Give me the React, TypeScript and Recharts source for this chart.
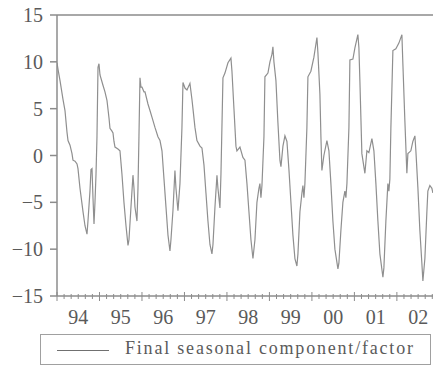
import { LineChart, Line, XAxis, YAxis, ReferenceLine } from 'recharts'

// decimal years of each reading
const dates = [
  1994.0, 1994.024, 1994.071, 1994.141, 1994.188, 1994.235, 1994.259, 1994.306, 1994.353, 1994.376,
  1994.424, 1994.471, 1994.494, 1994.541, 1994.612, 1994.659, 1994.706, 1994.729, 1994.776, 1994.8,
  1994.824, 1994.847, 1994.871, 1994.894, 1994.918, 1994.941, 1994.965, 1994.988, 1995.012, 1995.082,
  1995.129, 1995.176, 1995.224, 1995.247, 1995.294, 1995.318, 1995.341, 1995.365, 1995.435, 1995.482,
  1995.529, 1995.576, 1995.624, 1995.671, 1995.694, 1995.741, 1995.788, 1995.812, 1995.835, 1995.882,
  1995.906, 1995.929, 1995.953, 1995.976, 1996.0, 1996.047, 1996.071, 1996.141, 1996.188, 1996.235,
  1996.306, 1996.376, 1996.424, 1996.471, 1996.518, 1996.565, 1996.612, 1996.659, 1996.682, 1996.729,
  1996.776, 1996.8, 1996.847, 1996.894, 1996.941, 1996.965, 1997.012, 1997.059, 1997.129, 1997.176,
  1997.2, 1997.247, 1997.294, 1997.365, 1997.412, 1997.459, 1997.506, 1997.553, 1997.6, 1997.647,
  1997.671, 1997.718, 1997.765, 1997.788, 1997.835, 1997.859, 1997.906, 1997.953, 1998.024, 1998.094,
  1998.118, 1998.165, 1998.212, 1998.235, 1998.306, 1998.376, 1998.424, 1998.471, 1998.518, 1998.565,
  1998.612, 1998.659, 1998.706, 1998.753, 1998.776, 1998.8, 1998.824, 1998.871, 1998.894, 1998.965,
  1999.012, 1999.059, 1999.082, 1999.106, 1999.153, 1999.2, 1999.247, 1999.271, 1999.318, 1999.365,
  1999.412, 1999.459, 1999.506, 1999.553, 1999.6, 1999.647, 1999.671, 1999.718, 1999.765, 1999.788,
  1999.812, 1999.835, 1999.882, 1999.906, 1999.976, 2000.047, 2000.118, 2000.141, 2000.188, 2000.212,
  2000.235, 2000.282, 2000.353, 2000.4, 2000.447, 2000.494, 2000.541, 2000.612, 2000.635, 2000.682,
  2000.729, 2000.776, 2000.8, 2000.824, 2000.871, 2000.894, 2000.965, 2001.012, 2001.082, 2001.106,
  2001.129, 2001.176, 2001.247, 2001.294, 2001.341, 2001.412, 2001.459, 2001.506, 2001.553, 2001.6,
  2001.671, 2001.694, 2001.741, 2001.788, 2001.812, 2001.835, 2001.859, 2001.906, 2001.976, 2002.047,
  2002.118, 2002.141, 2002.188, 2002.235, 2002.259, 2002.329, 2002.376, 2002.424, 2002.447, 2002.494,
  2002.541, 2002.588, 2002.612, 2002.659, 2002.706, 2002.729, 2002.776, 2002.824, 2002.847,
]

const seasonal = [
  9.9, 9.2, 8.0, 6.0, 4.8, 2.5, 1.6, 1.1, 0.2, -0.5,
  -0.6, -0.9, -1.4, -3.5, -6.0, -7.5, -8.4, -7.0, -3.8, -1.5,
  -1.4, -4.5, -7.3, -5.0, -2.0, 2.0, 9.4, 9.8, 8.6, 7.5,
  6.8, 5.9, 4.0, 2.9, 2.6, 2.4, 1.5, 0.9, 0.7, 0.5,
  -2.0, -5.0, -7.5, -9.6, -9.0, -5.5, -2.1, -3.5, -5.5, -7.0,
  -3.5, 2.0, 8.3, 7.3, 7.3, 6.8, 6.8, 5.5, 4.8, 4.1,
  3.0, 2.0, 1.6, 0.5, -2.5, -5.5, -8.5, -10.2, -9.0, -5.9,
  -1.6, -3.5, -5.9, -3.0, 3.0, 7.8, 7.2, 7.0, 7.7, 6.0,
  5.0, 3.0, 1.6, 1.0, 0.8, -1.0, -4.0, -7.0, -9.5, -10.5,
  -9.5, -5.5, -2.1, -3.5, -5.6, -2.0, 8.3, 8.8, 9.9, 10.4,
  9.0, 5.0, 1.0, 0.5, 0.9, -0.2, -0.5, -3.0, -6.0, -9.0,
  -11.0, -9.0, -5.0, -3.5, -3.0, -4.5, -3.2, 2.0, 8.4, 8.8,
  10.0, 10.8, 11.6, 10.0, 8.0, 3.5, -0.5, -1.2, 1.0, 2.1,
  1.5, -1.5, -5.0, -8.5, -11.0, -11.8, -10.5, -6.0, -4.0, -3.2,
  -4.5, -3.0, 3.0, 8.4, 9.0, 10.5, 12.6, 11.0, 6.6, 2.0,
  -1.6, 0.0, 1.6, 0.5, -3.0, -7.0, -10.0, -12.1, -11.5, -8.0,
  -5.0, -3.8, -4.5, -3.0, 3.0, 10.2, 10.3, 11.5, 12.9, 11.5,
  8.0, 0.2, -1.9, 0.5, 0.3, 1.8, 0.5, -3.0, -7.0, -10.5,
  -13.0, -12.0, -7.0, -3.0, -3.8, -2.5, 3.0, 11.2, 11.4, 12.0,
  12.9, 9.8, 3.7, -1.9, 0.2, 0.5, 1.5, 2.1, 0.5, -3.4,
  -8.0, -11.5, -13.4, -11.0, -6.0, -3.8, -3.2, -3.5, -4.0,
]

const years = [1994, 1995, 1996, 1997, 1998, 1999, 2000, 2001, 2002]
const yearLabels = ['94', '95', '96', '97', '98', '99', '00', '01', '02']
const yTicks = [-15, -10, -5, 0, 5, 10, 15]
const seriesName = 'Final seasonal component/factor'

const xEnd = 2002.85
const data = dates.map((d, i) => ({ date: d, value: seasonal[i] }))

// year starts, minor ticks every 2 months (mid-year one carries the label)
const xTicks: number[] = []
years.forEach((yr) => {
  for (let k = 0; k < 6; k++) {
    const t = yr + k / 6
    if (t <= xEnd) xTicks.push(t)
  }
})

const FONT = '"Liberation Serif", serif'
const AXIS = '#8c8c8c'
const TEXT = '#5a5a5a'

function YearTick(props: any) {
  const { x, y, payload } = props
  const v = payload.value as number
  const yr = Math.floor(v + 1e-6)
  const frac = v - yr
  const major = Math.abs(frac) < 1e-6
  const mid = Math.abs(frac - 0.5) < 1e-6
  return (
    <g>
      <line
        x1={x}
        x2={x}
        y1={major ? y - 4 : y - 2}
        y2={major ? y + 5 : y + 3}
        stroke={AXIS}
        strokeWidth={1}
      />
      {mid && (
        <text
          x={x}
          y={y + 28}
          textAnchor='middle'
          fontFamily={FONT}
          fontSize={20}
          fill={TEXT}
        >
          {yearLabels[yr - years[0]]}
        </text>
      )}
    </g>
  )
}

export default function App() {
  return (
    <div style={{ position: 'absolute', left: 0, top: 0, width: 433, height: 368, background: '#fff' }}>
      <LineChart
        width={433}
        height={368}
        data={data}
        margin={{ top: 15, right: 0, left: 0, bottom: 32 }}
      >
        <XAxis
          dataKey='date'
          type='number'
          domain={[1994, xEnd]}
          ticks={xTicks}
          interval={0}
          height={40}
          tickSize={0}
          tickMargin={0}
          tickLine={false}
          axisLine={{ stroke: AXIS, strokeWidth: 1.5 }}
          tick={<YearTick />}
          allowDataOverflow
        />
        <YAxis
          type='number'
          domain={[-15, 15]}
          ticks={yTicks}
          width={57}
          tickSize={7}
          tickMargin={7}
          tickLine={{ stroke: AXIS, strokeWidth: 1.5 }}
          axisLine={{ stroke: AXIS, strokeWidth: 1.5 }}
          tick={{ fontFamily: FONT, fontSize: 20, fill: TEXT }}
          tickFormatter={(v: number) => String(v).replace('-', '\u2212')}
        />
        <ReferenceLine y={15} stroke='#a8a8a8' strokeWidth={2} />
        <Line
          type='linear'
          dataKey='value'
          name={seriesName}
          stroke='#8f8f8f'
          strokeWidth={1.2}
          dot={false}
          isAnimationActive={false}
        />
      </LineChart>
      <div
        style={{
          position: 'absolute',
          left: 40,
          top: 334,
          width: 391,
          height: 31,
          border: '1px solid #a0a0a0',
          boxSizing: 'border-box',
        }}
      >
        <div
          style={{
            position: 'absolute',
            left: 16,
            top: 15,
            width: 52,
            height: 0,
            borderTop: '1.5px solid #707070',
          }}
        />
        <div
          style={{
            position: 'absolute',
            left: 84,
            top: 3,
            fontFamily: FONT,
            fontSize: 18,
            letterSpacing: 1.8,
            color: TEXT,
            whiteSpace: 'nowrap',
          }}
        >
          {seriesName}
        </div>
      </div>
    </div>
  )
}
